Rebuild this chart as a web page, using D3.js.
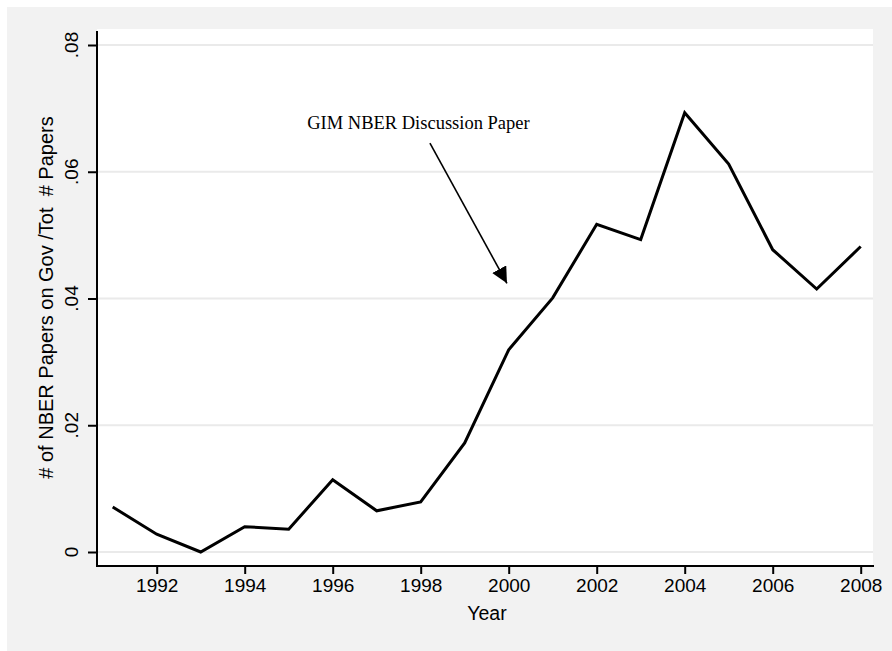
<!DOCTYPE html>
<html>
<head>
<meta charset="utf-8">
<script src="https://cdn.jsdelivr.net/npm/d3@7"></script>
<style>
  html, body { margin: 0; padding: 0; background: #ffffff; }
  svg { display: block; }
</style>
</head>
<body>
<div id="chart"></div>
<script>
// Share of NBER working papers on governance, by year
const years = [1991, 1992, 1993, 1994, 1995, 1996, 1997, 1998, 1999,
               2000, 2001, 2002, 2003, 2004, 2005, 2006, 2007, 2008];
const shares = [0.0071, 0.0028, 0.0000, 0.0040, 0.0036, 0.0114, 0.0065, 0.0079, 0.0172,
                0.0319, 0.0401, 0.0517, 0.0493, 0.0693, 0.0612, 0.0477, 0.0415, 0.0482];
const xTicks = [1992, 1994, 1996, 1998, 2000, 2002, 2004, 2006, 2008];
const yTicks = [0, 0.02, 0.04, 0.06, 0.08];
const yTickLabels = ["0", ".02", ".04", ".06", ".08"];
const xTitle = "Year";
const yTitle = "# of NBER Papers on Gov /Tot\u00a0\u00a0# Papers";
const noteText = "GIM NBER Discussion Paper";
// note position and arrow (tail -> head) in data units
const notePos = [1995.42, 0.0667];
const arrowFrom = [1998.21, 0.0645];
const arrowTo = [1999.96, 0.0424];

const W = 892, H = 651;
const plot = { left: 97, right: 873, top: 29, bottom: 566 };
const sans = "'Liberation Sans', Arial, Helvetica, sans-serif";

const svg = d3.select("#chart").append("svg")
  .attr("width", W).attr("height", H);

// outer graph region
svg.append("rect").attr("x", 7).attr("y", 7)
  .attr("width", W - 7).attr("height", H - 7)
  .attr("fill", "#f2f2f2");

// plot region
svg.append("rect").attr("x", plot.left).attr("y", plot.top)
  .attr("width", plot.right - plot.left).attr("height", plot.bottom - plot.top)
  .attr("fill", "#ffffff");

const x = d3.scaleLinear().domain([1991, 2008]).range([112.7, 860.7]);
const y = d3.scaleLinear().domain([0, 0.08]).range([552, 45]);

// horizontal grid
svg.append("g").selectAll("line").data(yTicks).join("line")
  .attr("x1", plot.left).attr("x2", plot.right)
  .attr("y1", d => y(d)).attr("y2", d => y(d))
  .attr("stroke", "#eaeaea").attr("stroke-width", 2);

// y axis
const yAxis = svg.append("g")
  .attr("transform", `translate(${plot.left},0)`)
  .call(d3.axisLeft(y).tickValues(yTicks)
    .tickFormat((d, i) => yTickLabels[i]).tickSize(9).tickPadding(0));
yAxis.select(".domain").remove();
yAxis.selectAll(".tick line").attr("stroke", "#000").attr("stroke-width", 2);
yAxis.selectAll(".tick text").remove();
svg.append("line")
  .attr("x1", plot.left).attr("x2", plot.left)
  .attr("y1", 31).attr("y2", plot.bottom + 1)
  .attr("stroke", "#000").attr("stroke-width", 2);

svg.append("g").selectAll("text").data(yTicks).join("text")
  .attr("transform", d => `translate(78,${y(d)}) rotate(-90)`)
  .attr("text-anchor", "middle")
  .attr("font-family", sans)
  .attr("font-size", 19)
  .attr("fill", "#000")
  .text((d, i) => yTickLabels[i]);

// x axis
const xAxis = svg.append("g")
  .attr("transform", `translate(0,${plot.bottom})`)
  .call(d3.axisBottom(x).tickValues(xTicks).tickFormat(d3.format("d"))
    .tickSize(8).tickPadding(5));
xAxis.select(".domain").remove();
xAxis.selectAll(".tick line").attr("stroke", "#000").attr("stroke-width", 2);
xAxis.selectAll(".tick text")
  .attr("font-family", sans)
  .attr("font-size", 19).attr("fill", "#000");
svg.append("line")
  .attr("x1", plot.left - 1).attr("x2", plot.right + 1)
  .attr("y1", plot.bottom).attr("y2", plot.bottom)
  .attr("stroke", "#000").attr("stroke-width", 2);

// axis titles
svg.append("text")
  .attr("x", (plot.left + plot.right) / 2 + 2).attr("y", 620)
  .attr("text-anchor", "middle")
  .attr("font-family", sans)
  .attr("font-size", 19.5).attr("fill", "#000")
  .text(xTitle);

svg.append("text")
  .attr("transform", `translate(53,${(plot.top + plot.bottom) / 2}) rotate(-90)`)
  .attr("text-anchor", "middle")
  .attr("font-family", sans)
  .attr("font-size", 20).attr("fill", "#000")
  .text(yTitle);

// series line
const line = d3.line().x((d, i) => x(years[i])).y(d => y(d));
svg.append("path").datum(shares)
  .attr("d", line)
  .attr("fill", "none").attr("stroke", "#000")
  .attr("stroke-width", 3).attr("stroke-linejoin", "miter");

// annotation
svg.append("defs").append("marker")
  .attr("id", "arrowhead")
  .attr("viewBox", "0 0 10 10")
  .attr("refX", 10).attr("refY", 5)
  .attr("markerUnits", "userSpaceOnUse")
  .attr("markerWidth", 16).attr("markerHeight", 16)
  .attr("orient", "auto")
  .append("path").attr("d", "M0,0 L10,5 L0,10 Z").attr("fill", "#000");

svg.append("line")
  .attr("x1", x(arrowFrom[0])).attr("y1", y(arrowFrom[1]))
  .attr("x2", x(arrowTo[0])).attr("y2", y(arrowTo[1]))
  .attr("stroke", "#000").attr("stroke-width", 1.6)
  .attr("marker-end", "url(#arrowhead)");

svg.append("text")
  .attr("x", x(notePos[0])).attr("y", y(notePos[1]))
  .attr("font-family", "'Liberation Serif', 'Times New Roman', serif")
  .attr("font-size", 18.5).attr("fill", "#000")
  .text(noteText);
</script>
</body>
</html>
